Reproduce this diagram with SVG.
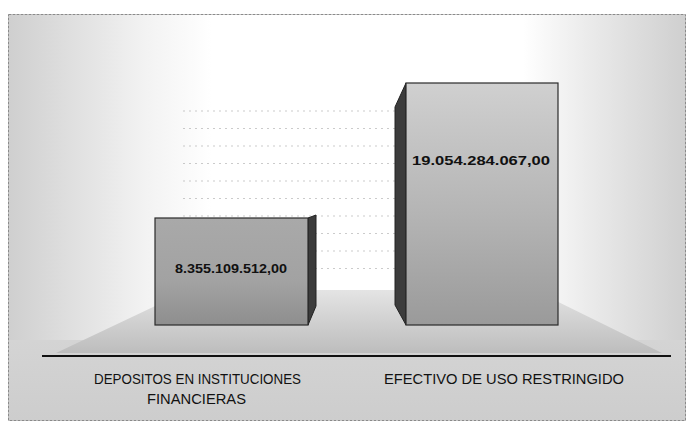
<svg xmlns="http://www.w3.org/2000/svg" width="689" height="422" viewBox="0 0 689 422">
  <defs>
    <linearGradient id="bgH" x1="0" y1="0" x2="1" y2="0">
      <stop offset="0" stop-color="#cfcfcf"/>
      <stop offset="0.2" stop-color="#f2f2f2"/>
      <stop offset="0.3" stop-color="#ffffff"/>
      <stop offset="0.76" stop-color="#ffffff"/>
      <stop offset="0.85" stop-color="#ececec"/>
      <stop offset="1" stop-color="#cfcfcf"/>
    </linearGradient>
    <linearGradient id="bgB" x1="0" y1="0" x2="0" y2="1">
      <stop offset="0" stop-color="#d4d4d4"/>
      <stop offset="1" stop-color="#cdcdcd"/>
    </linearGradient>
    <linearGradient id="floor" x1="0" y1="0" x2="0" y2="1">
      <stop offset="0" stop-color="#e4e4e4"/>
      <stop offset="1" stop-color="#bdbdbd"/>
    </linearGradient>
    <linearGradient id="front1" x1="0" y1="0" x2="0" y2="1">
      <stop offset="0" stop-color="#a9a9a9"/>
      <stop offset="0.6" stop-color="#a2a2a2"/>
      <stop offset="1" stop-color="#8e8e8e"/>
    </linearGradient>
    <linearGradient id="front2" x1="0" y1="0" x2="0" y2="1">
      <stop offset="0" stop-color="#d0d0d0"/>
      <stop offset="0.55" stop-color="#b4b4b4"/>
      <stop offset="1" stop-color="#9a9a9a"/>
    </linearGradient>
    <style>
      .grid { stroke: #a0a0a0; stroke-width: 1; stroke-dasharray: 2 4; fill: none; opacity: 0.55; }
      .edge { stroke: #2a2a2a; stroke-width: 1.2; }
      .side { fill: #3c3c3c; stroke: #222; stroke-width: 1; }
      .val { font-family: "Liberation Sans", Arial, sans-serif; font-weight: bold; font-size: 13px; fill: #111; }
      .cat { font-family: "Liberation Sans", Arial, sans-serif; font-size: 15px; fill: #111; }
    </style>
  </defs>

  <rect x="0" y="0" width="689" height="422" fill="#ffffff"/>
  <rect x="8.5" y="14.5" width="677" height="406" fill="url(#bgH)" stroke="#8a8a8a" stroke-width="1" stroke-dasharray="3 1"/>
  <rect x="9" y="340" width="676" height="80" fill="url(#bgB)"/>

  <g id="walls">
    <polygon points="189,290 534,290 662,353 56,353" fill="url(#floor)"/>
    <g id="gridlines">
      <line class="grid" x1="183" y1="111" x2="520" y2="111"/>
      <line class="grid" x1="183" y1="128.5" x2="520" y2="128.5"/>
      <line class="grid" x1="183" y1="146" x2="520" y2="146"/>
      <line class="grid" x1="183" y1="163.5" x2="520" y2="163.5"/>
      <line class="grid" x1="183" y1="181" x2="520" y2="181"/>
      <line class="grid" x1="183" y1="198.5" x2="520" y2="198.5"/>
      <line class="grid" x1="183" y1="216" x2="520" y2="216"/>
      <line class="grid" x1="183" y1="233.5" x2="520" y2="233.5"/>
      <line class="grid" x1="183" y1="251" x2="520" y2="251"/>
      <line class="grid" x1="183" y1="268.5" x2="520" y2="268.5"/>
    </g>
  </g>

  <g id="connectors">
    <line x1="42" y1="356" x2="671" y2="356" stroke="#111" stroke-width="2.2"/>
  </g>

  <g id="bar-depositos">
    <polygon class="side" points="308,218 316,215 316,306 308,325"/>
    <rect class="edge" x="155" y="218" width="153" height="107" fill="url(#front1)"/>
    <text class="val" x="231" y="273" text-anchor="middle" textLength="112" lengthAdjust="spacingAndGlyphs">8.355.109.512,00</text>
  </g>

  <g id="bar-efectivo">
    <polygon class="side" points="406,83 395,107 395,305 406,325"/>
    <rect class="edge" x="406" y="83" width="152" height="242" fill="url(#front2)"/>
    <text class="val" x="481" y="165" text-anchor="middle" textLength="138" lengthAdjust="spacingAndGlyphs">19.054.284.067,00</text>
  </g>

  <g id="labels">
    <text class="cat" x="94" y="384" textLength="207" lengthAdjust="spacingAndGlyphs">DEPOSITOS EN INSTITUCIONES</text>
    <text class="cat" x="147" y="404" textLength="99" lengthAdjust="spacingAndGlyphs">FINANCIERAS</text>
    <text class="cat" x="384" y="384" textLength="240" lengthAdjust="spacingAndGlyphs">EFECTIVO DE USO RESTRINGIDO</text>
  </g>
</svg>
